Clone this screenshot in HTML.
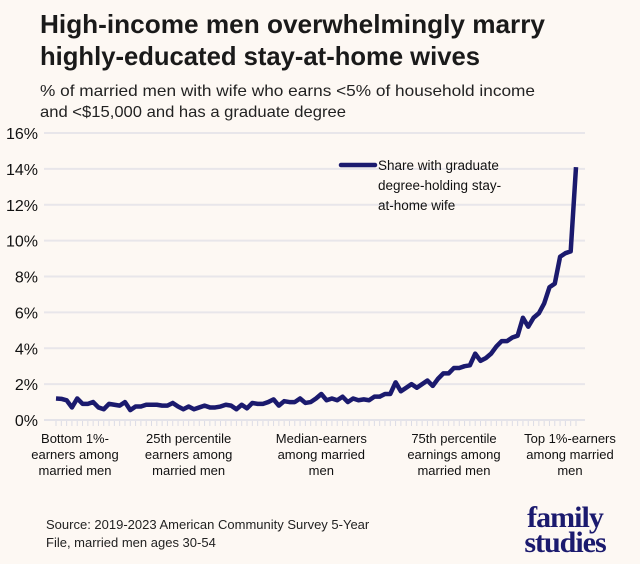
<!DOCTYPE html>
<html><head><meta charset="utf-8"><style>
html,body{margin:0;padding:0;background:#fdf8f3;}
svg{display:block;font-family:"Liberation Sans",sans-serif;}
</style></head><body>
<svg width="640" height="564" viewBox="0 0 640 564">
<rect width="640" height="564" fill="#fdf8f3"/>
<text x="40" y="33" font-size="26" font-weight="bold" fill="#1a1a1a" textLength="505" lengthAdjust="spacingAndGlyphs">High-income men overwhelmingly marry</text>
<text x="40" y="65" font-size="26" font-weight="bold" fill="#1a1a1a" textLength="440" lengthAdjust="spacingAndGlyphs">highly-educated stay-at-home wives</text>
<text x="40" y="96" font-size="16" fill="#222" textLength="495" lengthAdjust="spacingAndGlyphs">% of married men with wife who earns &lt;5% of household income</text>
<text x="40" y="117" font-size="16" fill="#222" textLength="306" lengthAdjust="spacingAndGlyphs">and &lt;$15,000 and has a graduate degree</text>
<g id="grid"></g>
<g id="yticks"></g>
<g id="xminor"></g>
<polyline id="line" fill="none" stroke="#1b1a6e" stroke-width="4.5" stroke-linejoin="round"/>
<g>
<line x1="341" y1="165" x2="375" y2="165" stroke="#1b1a6e" stroke-width="4.5" stroke-linecap="round"/>
<text font-size="13.5" fill="#111"><tspan x="378" y="170">Share with graduate</tspan><tspan x="378" y="190">degree-holding stay-</tspan><tspan x="378" y="210">at-home wife</tspan></text>
</g>
<g id="xlabels" font-size="13" fill="#111" text-anchor="middle"></g>
<text font-size="13" fill="#222"><tspan x="46" y="529">Source: 2019-2023 American Community Survey 5-Year</tspan><tspan x="46" y="547">File, married men ages 30-54</tspan></text>
<text font-family="Liberation Serif,serif" font-weight="bold" font-size="30" fill="#1b1a6e" text-anchor="middle"><tspan x="565" y="527" letter-spacing="-1">family</tspan><tspan x="565" y="552" letter-spacing="-1">studies</tspan></text>
</svg>
<script>
const values=[1.2,1.18,1.1,0.7,1.2,0.9,0.9,1.0,0.7,0.6,0.9,0.85,0.8,1.0,0.55,0.75,0.75,0.85,0.85,0.85,0.8,0.8,0.95,0.75,0.6,0.75,0.6,0.7,0.8,0.7,0.7,0.75,0.85,0.8,0.6,0.85,0.65,0.95,0.9,0.9,1.0,1.15,0.8,1.05,1.0,1.0,1.2,0.95,1.0,1.2,1.45,1.1,1.2,1.1,1.3,1.0,1.2,1.1,1.15,1.1,1.3,1.3,1.45,1.45,2.1,1.6,1.8,2.0,1.8,2.0,2.2,1.9,2.3,2.6,2.6,2.9,2.9,3.0,3.05,3.7,3.3,3.45,3.7,4.1,4.4,4.4,4.6,4.7,5.7,5.2,5.7,5.95,6.5,7.4,7.6,9.1,9.3,9.4,14.1];
const yTicks=[0,2,4,6,8,10,12,14,16];
const xLabels=[["Bottom 1%-","earners among","married men"],["25th percentile","earners among","married men"],["Median-earners","among married","men"],["75th percentile","earnings among","married men"],["Top 1%-earners","among married","men"]];
const xLabelPos=[0,25,50,75,99];
const NS="http://www.w3.org/2000/svg";
const x0=56,x1=576,y0=420,y16=133;
const xs=i=>x0+i*(x1-x0)/(values.length-1);
const ys=v=>y0-v*(y0-y16)/16;
const grid=document.getElementById('grid'),yt=document.getElementById('yticks');
yTicks.forEach(t=>{
 const l=document.createElementNS(NS,'line');
 l.setAttribute('x1',44);l.setAttribute('x2',585);l.setAttribute('y1',ys(t));l.setAttribute('y2',ys(t));
 l.setAttribute('stroke',t===0?'#dcdce6':'#e8e6ea');l.setAttribute('stroke-width',t===0?1.5:2);
 
 
 grid.appendChild(l);
 const tx=document.createElementNS(NS,'text');
 tx.setAttribute('x',38);tx.setAttribute('y',ys(t)+6);tx.setAttribute('text-anchor','end');
 tx.setAttribute('font-size','16');tx.setAttribute('fill','#111');
 tx.textContent=t+'%';
 
 
 yt.appendChild(tx);
});
const xm=document.getElementById('xminor');
for(let i=0;i<values.length;i++){
 const l=document.createElementNS(NS,'line');
 l.setAttribute('x1',xs(i));l.setAttribute('x2',xs(i));l.setAttribute('y1',421);l.setAttribute('y2',426);
 l.setAttribute('stroke','#dcdce6');l.setAttribute('stroke-width',1);
 
 
 xm.appendChild(l);
}
document.getElementById('line').setAttribute('points',values.map((v,i)=>xs(i)+','+ys(v)).join(' '));
const xl=document.getElementById('xlabels');
xLabels.forEach((lines,k)=>{
 const t=document.createElementNS(NS,'text');
 
 
 let cx=xs(xLabelPos[k]);
 if(k===0)cx=75; if(k===4)cx=570;
 lines.forEach((s,j)=>{const ts=document.createElementNS(NS,'tspan');ts.setAttribute('x',cx);ts.setAttribute('y',443+j*16);ts.textContent=s;t.appendChild(ts);});
 xl.appendChild(t);
});
</script>
</body></html>
